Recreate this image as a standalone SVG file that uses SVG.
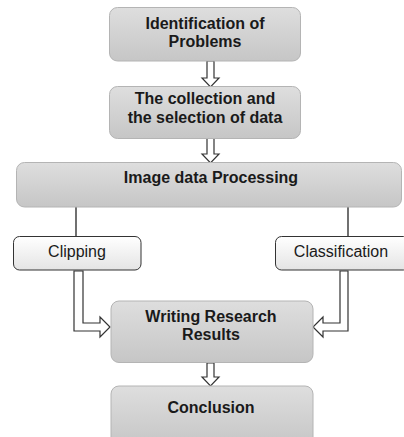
<svg xmlns="http://www.w3.org/2000/svg" width="404" height="437" viewBox="0 0 404 437">
<defs>
<linearGradient id="gGray" x1="0" y1="0" x2="0" y2="1">
<stop offset="0" stop-color="#dedede"/>
<stop offset="1" stop-color="#c6c6c6"/>
</linearGradient>
<linearGradient id="gWhite" x1="0" y1="0" x2="0" y2="1">
<stop offset="0" stop-color="#ffffff"/>
<stop offset="1" stop-color="#e4e4e4"/>
</linearGradient>
</defs>
<style>
.main{fill:url(#gGray);stroke:#b4b4b4;stroke-width:1}
.sub{fill:url(#gWhite);stroke:#333;stroke-width:1}
.bt{font-family:"Liberation Sans",Arial,sans-serif;font-weight:bold;font-size:16px;fill:#1a1a1a;text-anchor:middle}
.nt{font-family:"Liberation Sans",Arial,sans-serif;font-size:16px;fill:#1a1a1a;text-anchor:middle}
.line{stroke:#111;stroke-width:1.2;fill:none}
.blk{fill:#fff;stroke:#333;stroke-width:1.2;stroke-linejoin:miter}
</style>
<rect width="404" height="437" fill="#fff"/>
<g id="connectors">
<polygon class="blk" points="207,61 214,61 214,78 219,78 210.5,87 202,78 207,78"/>
<polygon class="blk" points="207,138 214,138 214,154 219,154 210.5,163 202,154 207,154"/>
<line class="line" x1="76" y1="207" x2="76" y2="236"/>
<line class="line" x1="348" y1="207" x2="348" y2="236"/>
<polygon class="blk" points="74,271 83,271 83,323 100,323 100,317 110,327 100,337 100,331 74,331"/>
<polygon class="blk" points="348,271 340,271 340,323 323,323 323,317 313,327 323,337 323,331 348,331"/>
<polygon class="blk" points="207,363 214,363 214,377 219,377 210.5,386 202,377 207,377"/>
</g>
<g id="n1">
<rect class="main" x="109.5" y="7.5" width="191" height="53.5" rx="8"/>
<text class="bt" x="205" y="29">Identification of</text>
<text class="bt" x="205" y="47">Problems</text>
</g>
<g id="n2">
<rect class="main" x="109.5" y="86.5" width="191" height="52" rx="8"/>
<text class="bt" x="205" y="104">The collection and</text>
<text class="bt" x="205" y="123">the selection of data</text>
</g>
<g id="n3">
<rect class="main" x="16.5" y="162.5" width="385" height="44.5" rx="8"/>
<text class="bt" x="211" y="183">Image data Processing</text>
</g>
<g id="n4">
<rect class="sub" x="13.5" y="236.5" width="127.5" height="33.5" rx="6"/>
<text class="nt" x="77" y="257">Clipping</text>
</g>
<g id="n5">
<rect class="sub" x="275.5" y="236.5" width="134" height="33.5" rx="6"/>
<text class="nt" x="341" y="257">Classification</text>
</g>
<g id="n6">
<rect class="main" x="111" y="301" width="202" height="61.5" rx="8"/>
<text class="bt" x="211" y="322">Writing Research</text>
<text class="bt" x="211" y="340">Results</text>
</g>
<g id="n7">
<rect class="main" x="111" y="386" width="202" height="60" rx="8"/>
<text class="bt" x="211" y="413">Conclusion</text>
</g>
</svg>
